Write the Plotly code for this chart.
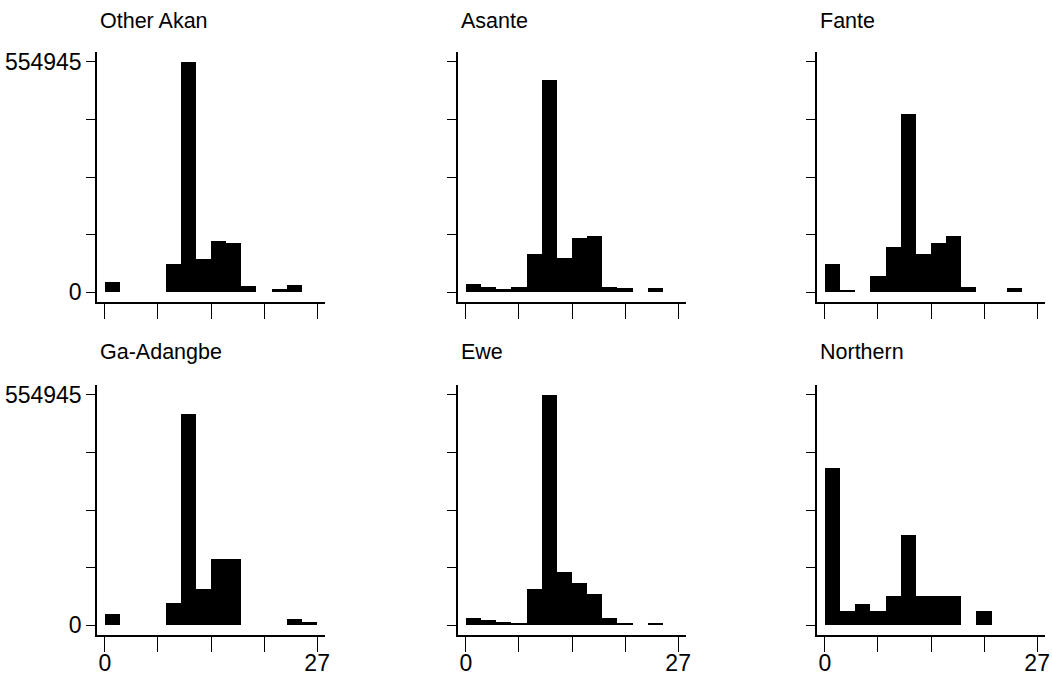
import numpy as np
import plotly.graph_objects as go

# ---- data (weighted counts per bin, 14 bins spanning 0..27) ----
panel_titles = ["Other Akan", "Asante", "Fante", "Ga-Adangbe", "Ewe", "Northern"]
other_akan = [25700, 0, 0, 0, 67400, 554945, 79400, 124300, 119500, 16000, 0, 8000, 17600, 0]
asante = [20000, 13600, 8000, 12000, 92200, 510800, 81800, 129900, 134700, 13600, 10000, 0, 10000, 0]
fante = [67900, 6000, 0, 39900, 110200, 429600, 91800, 119800, 135700, 12000, 0, 0, 9600, 0]
ga_adangbe = [27500, 0, 0, 0, 54100, 508100, 88000, 160700, 159100, 0, 0, 0, 15300, 7300]
ewe = [16900, 12900, 8800, 6400, 86900, 554945, 128700, 101300, 76400, 18500, 6400, 0, 6400, 0]
northern = [379100, 34700, 52400, 34700, 71000, 216200, 69400, 69400, 69400, 0, 34700, 0, 0, 0]
series = [other_akan, asante, fante, ga_adangbe, ewe, northern]

x_min, x_max, n_bins = 0, 27, 14
y_max = 554945
x_tick_labels = ["0", "", "", "", "27"]
y_tick_labels = ["0", "", "", "", "554945"]

edges = np.linspace(x_min, x_max, n_bins + 1)
centers = (edges[:-1] + edges[1:]) / 2
bw = edges[1] - edges[0]
x_ticks = np.linspace(x_min, x_max, 5)
y_ticks = np.linspace(0, y_max, 5)

W, H = 1052, 681
col_px = [(97, 325), (458, 686), (817, 1045)]
row_px = [(52, 302), (385, 635)]

FONT = "Liberation Sans, Arial, sans-serif"
TICK_SIZE = 23
TITLE_SIZE = 21.5

fig = go.Figure()
layout = dict(
    width=W, height=H,
    margin=dict(l=0, r=0, t=0, b=0),
    paper_bgcolor="white", plot_bgcolor="white",
    showlegend=False, bargap=0,
    font=dict(family=FONT, color="black", size=TICK_SIZE),
)
annotations = []
pad = y_max * 0.042
for i, vals in enumerate(series):
    r, c = divmod(i, 3)
    k = i + 1
    xa = "x" if k == 1 else f"x{k}"
    ya = "y" if k == 1 else f"y{k}"
    fig.add_trace(go.Bar(x=centers, y=vals, width=bw, marker=dict(color="black", line=dict(width=0)),
                         xaxis=xa, yaxis=ya, hoverinfo="skip"))
    x0, x1 = col_px[c]
    y0, y1 = row_px[r]
    layout[f"xaxis{'' if k == 1 else k}"] = dict(
        domain=[x0 / W, x1 / W], anchor=ya, range=[x_min - 1, x_max + 1],
        showgrid=False, zeroline=False, showline=True, linecolor="black", linewidth=1.5,
        ticks="outside", ticklen=15, tickwidth=1.2, tickcolor="black",
        tickmode="array", tickvals=list(x_ticks),
        ticktext=x_tick_labels if r == 1 else [""] * 5,
        ticklabelstandoff=-8,
        tickfont=dict(size=TICK_SIZE, family=FONT), automargin=False, fixedrange=True,
    )
    layout[f"yaxis{'' if k == 1 else k}"] = dict(
        domain=[1 - y1 / H, 1 - y0 / H], anchor=xa, range=[-pad, y_max + pad],
        showgrid=False, zeroline=False, showline=True, linecolor="black", linewidth=1.5,
        ticks="outside", ticklen=9, tickwidth=1.2, tickcolor="black",
        tickmode="array", tickvals=list(y_ticks),
        ticktext=y_tick_labels if c == 0 else [""] * 5,
        tickfont=dict(size=TICK_SIZE, family=FONT), automargin=False, fixedrange=True,
    )
    title_y = 21 if r == 0 else 352
    annotations.append(dict(
        text=panel_titles[i], xref="paper", yref="paper",
        x=(x0 + 1) / W, y=1 - title_y / H, xanchor="left", yanchor="middle",
        showarrow=False, font=dict(size=TITLE_SIZE, family=FONT, color="black"),
    ))
layout["annotations"] = annotations
fig.update_layout(**layout)
fig.write_html("out.html", config={"displayModeBar": False},
               post_script="document.body.style.margin='0';document.body.style.overflow='hidden';")
